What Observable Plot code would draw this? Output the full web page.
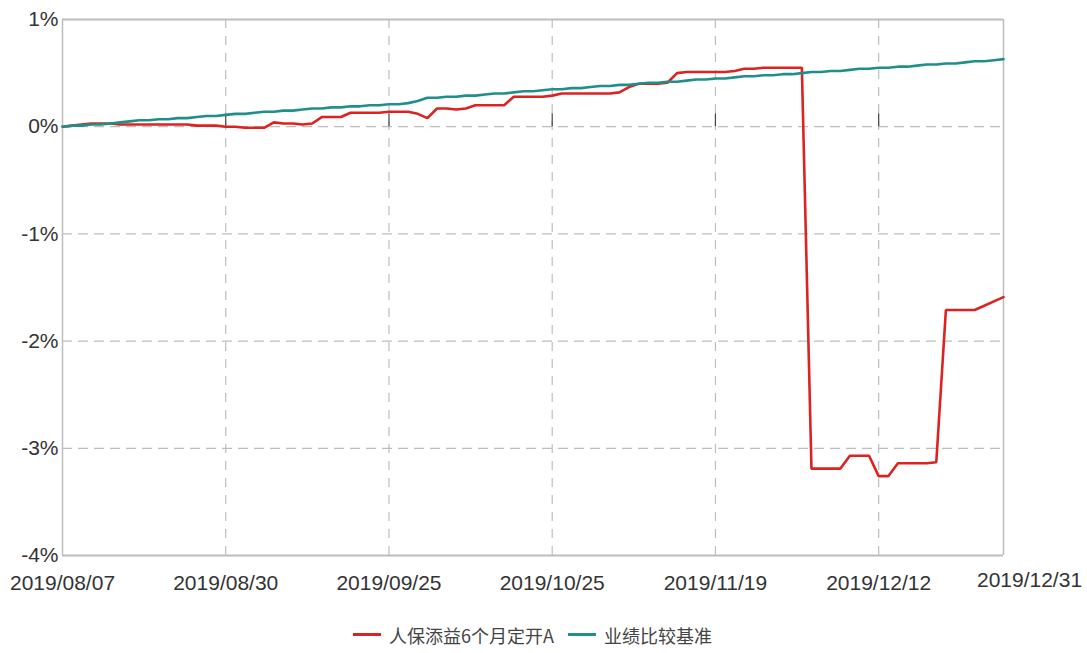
<!DOCTYPE html>
<html>
<head>
<meta charset="utf-8">
<script src="https://cdn.jsdelivr.net/npm/d3@7"></script>
<script src="https://cdn.jsdelivr.net/npm/@observablehq/plot@0.6"></script>
<style>
  html, body { margin: 0; padding: 0; background: #fff; }
  #chart { width: 1087px; }
  .legend { display: flex; justify-content: center; align-items: center; gap: 14px;
    font-family: "Noto Sans CJK SC", sans-serif; font-size: 18px; color: #444; height: 43px;
    padding-top: 6px; padding-right: 22px; box-sizing: border-box; width: 1087px; }
  .legend span.item { display: flex; align-items: center; }
  .legend span.sw { display: inline-block; width: 28px; height: 3px; margin-right: 8px; }
</style>
</head>
<body>
<div id="chart"></div>
<script>
const dates = [
  "2019/08/07","2019/08/08","2019/08/09","2019/08/12","2019/08/13","2019/08/14","2019/08/15","2019/08/16","2019/08/19","2019/08/20",
  "2019/08/21","2019/08/22","2019/08/23","2019/08/26","2019/08/27","2019/08/28","2019/08/29","2019/08/30",
  "2019/09/02","2019/09/03","2019/09/04","2019/09/05","2019/09/06","2019/09/09","2019/09/10","2019/09/11","2019/09/12",
  "2019/09/16","2019/09/17","2019/09/18","2019/09/19","2019/09/20","2019/09/23","2019/09/24","2019/09/25","2019/09/26","2019/09/27","2019/09/30",
  "2019/10/08","2019/10/09","2019/10/10","2019/10/11","2019/10/14","2019/10/15","2019/10/16","2019/10/17","2019/10/18",
  "2019/10/21","2019/10/22","2019/10/23","2019/10/24","2019/10/25","2019/10/28","2019/10/29","2019/10/30","2019/10/31",
  "2019/11/01","2019/11/04","2019/11/05","2019/11/06","2019/11/07","2019/11/08","2019/11/11","2019/11/12","2019/11/13","2019/11/14","2019/11/15",
  "2019/11/18","2019/11/19","2019/11/20","2019/11/21","2019/11/22","2019/11/25","2019/11/26","2019/11/27","2019/11/28","2019/11/29",
  "2019/12/02","2019/12/03","2019/12/04","2019/12/05","2019/12/06","2019/12/09","2019/12/10","2019/12/11","2019/12/12","2019/12/13",
  "2019/12/16","2019/12/17","2019/12/18","2019/12/19","2019/12/20","2019/12/23","2019/12/24","2019/12/25","2019/12/26","2019/12/27",
  "2019/12/30","2019/12/31"
];

// 人保添益6个月定开A (cumulative return, %)
const fundValues = [
  0.00, 0.01, 0.02, 0.03, 0.03, 0.03, 0.02, 0.02, 0.02, 0.02,
  0.02, 0.02, 0.02, 0.02, 0.01, 0.01, 0.01, 0.00, 0.00, -0.01,
  -0.01, -0.01, 0.04, 0.03, 0.03, 0.02, 0.03, 0.09, 0.09, 0.09,
  0.13, 0.13, 0.13, 0.13, 0.14, 0.14, 0.14, 0.12, 0.08, 0.17,
  0.17, 0.16, 0.17, 0.20, 0.20, 0.20, 0.20, 0.28, 0.28, 0.28,
  0.28, 0.29, 0.31, 0.31, 0.31, 0.31, 0.31, 0.31, 0.32, 0.37,
  0.40, 0.40, 0.40, 0.41, 0.50, 0.51, 0.51, 0.51, 0.51, 0.51,
  0.52, 0.54, 0.54, 0.55, 0.55, 0.55, 0.55, 0.55, -3.19, -3.19,
  -3.19, -3.19, -3.07, -3.07, -3.07, -3.26, -3.26, -3.14, -3.14, -3.14,
  -3.14, -3.13, -1.71, -1.71, -1.71, -1.71, -1.67, -1.63, -1.59
];

// 业绩比较基准 (cumulative return, %)
const benchValues = [
  0.00, 0.01, 0.01, 0.02, 0.02, 0.03, 0.04, 0.05, 0.06, 0.06,
  0.07, 0.07, 0.08, 0.08, 0.09, 0.10, 0.10, 0.11, 0.12, 0.12,
  0.13, 0.14, 0.14, 0.15, 0.15, 0.16, 0.17, 0.17, 0.18, 0.18,
  0.19, 0.19, 0.20, 0.20, 0.21, 0.21, 0.22, 0.24, 0.27, 0.27,
  0.28, 0.28, 0.29, 0.29, 0.30, 0.31, 0.31, 0.32, 0.33, 0.33,
  0.34, 0.35, 0.35, 0.36, 0.36, 0.37, 0.38, 0.38, 0.39, 0.39,
  0.40, 0.41, 0.41, 0.42, 0.42, 0.43, 0.44, 0.44, 0.45, 0.45,
  0.46, 0.47, 0.47, 0.48, 0.48, 0.49, 0.49, 0.50, 0.51, 0.51,
  0.52, 0.52, 0.53, 0.54, 0.54, 0.55, 0.55, 0.56, 0.56, 0.57,
  0.58, 0.58, 0.59, 0.59, 0.60, 0.61, 0.61, 0.62, 0.63
];

const tickDates = ["2019/08/07","2019/08/30","2019/09/25","2019/10/25","2019/11/19","2019/12/12","2019/12/31"];
const yTicks = [1, 0, -1, -2, -3, -4];
const seriesNames = ["人保添益6个月定开A", "业绩比较基准"];
const seriesColors = ["#dd2222", "#1f8f8a"];

const rows = dates.flatMap((d, i) => [
  {date: d, value: fundValues[i], series: seriesNames[0]},
  {date: d, value: benchValues[i], series: seriesNames[1]}
]);

const font = "'Liberation Sans Narrow', 'Liberation Sans', sans-serif";
const gridColor = "#bdbdbd";
const innerTicks = tickDates.slice(1, -1);
const lastTick = tickDates[tickDates.length - 1];

const chart = Plot.plot({
  width: 1087,
  height: 610,
  marginLeft: 62,
  marginRight: 84,
  marginTop: 19,
  marginBottom: 55,
  style: {fontFamily: font, fontSize: "21px", color: "#333", background: "#fff"},
  x: {type: "point", domain: dates, padding: 0, label: null},
  y: {domain: [-4, 1], label: null},
  color: {domain: seriesNames, range: seriesColors},
  marks: [
    Plot.ruleY(yTicks.filter(t => t !== 1 && t !== -4), {stroke: gridColor, strokeDasharray: "10,6", strokeWidth: 1.2}),
    Plot.ruleX(innerTicks, {stroke: gridColor, strokeDasharray: "9,8", strokeWidth: 1.2}),
    Plot.ruleX(innerTicks, {y1: 0, y2: 0.12, stroke: "#444", strokeWidth: 1.2}),
    Plot.ruleY([1, -4], {stroke: gridColor, strokeWidth: 2}),
    Plot.ruleX([dates[0], dates[dates.length - 1]], {stroke: gridColor, strokeWidth: 1.5}),
    Plot.line(rows, {x: "date", y: "value", z: "series", stroke: "series", strokeWidth: 2.6, strokeLinejoin: "miter"}),
    Plot.axisY({ticks: yTicks, tickFormat: d => d + "%", tickSize: 0, tickPadding: 4, fontSize: 21, fill: "#333", label: null}),
    Plot.axisX({ticks: tickDates.slice(0, -1), tickSize: 0, tickPadding: 20, fontSize: 21, fill: "#333", label: null}),
    Plot.axisX({ticks: [lastTick], tickSize: 0, tickPadding: 17, dx: 26, fontSize: 21, fill: "#333", label: null})
  ]
});

document.getElementById("chart").appendChild(chart);

const legend = document.createElement("div");
legend.className = "legend";
seriesNames.forEach((name, i) => {
  const item = document.createElement("span");
  item.className = "item";
  const sw = document.createElement("span");
  sw.className = "sw";
  sw.style.background = seriesColors[i];
  item.appendChild(sw);
  item.appendChild(document.createTextNode(name));
  legend.appendChild(item);
});
document.body.appendChild(legend);
</script>
</body>
</html>
